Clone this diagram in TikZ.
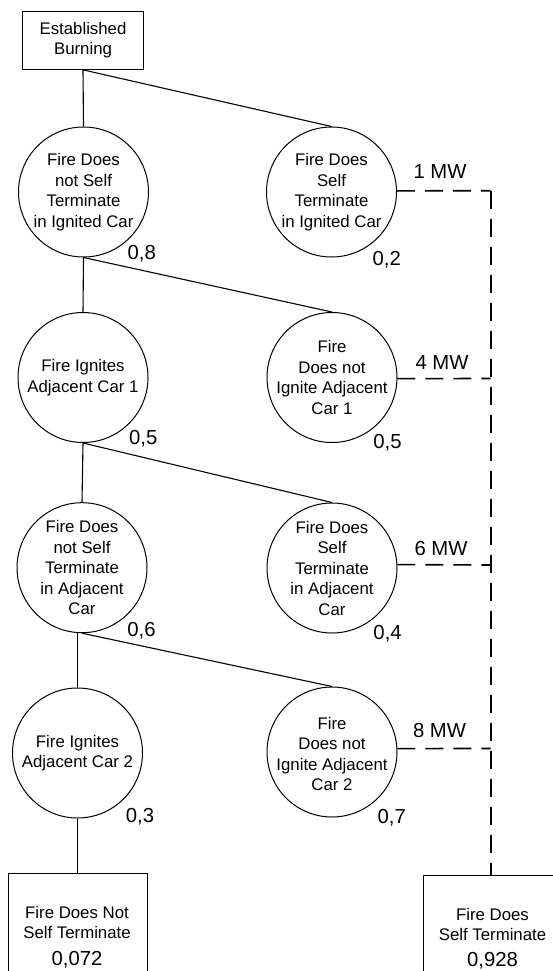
\documentclass[tikz,border=0pt]{standalone}
\usepackage{fontspec}
\setmainfont{Liberation Sans}
\begin{document}
\begin{tikzpicture}[x=1pt,y=-1pt,
  circ/.style={circle,draw,line width=1pt,minimum size=130pt,inner sep=0pt},
  ctext/.style={align=center,font=\fontsize{16.8}{20.5}\selectfont,inner sep=0pt},
  prob/.style={font=\fontsize{20.3}{22}\selectfont,inner sep=0pt},
  branch/.style={line width=1.1pt},
  heat/.style={line width=1.6pt,dash pattern=on 18pt off 10pt},
  box/.style={draw,line width=1pt,inner sep=0pt}]
\useasboundingbox (0,0) rectangle (553,971);
\clip (0,0) rectangle (553,971);

% top box
\node[box,minimum width=121.3pt,minimum height=58.3pt,align=center,
      font=\fontsize{16.8}{20.7}\selectfont] (top) at (83,40.2) {Established\\Burning};

% left column
\node[circ] (c1) at (83.5,192) {};
\node[ctext] (t1) at (c1) {Fire Does\\not Self\\Terminate\\in Ignited Car};
\node[circ] (c2) at (83,377.5) {};
\node[ctext] (t2) at (c2) {Fire Ignites\\Adjacent Car 1};
\node[circ] (c3) at (82,567.7) {};
\node[ctext] (t3) at (c3) {Fire Does\\not Self\\Terminate\\in Adjacent\\Car};
\node[circ] (c4) at (77.5,753) {};
\node[ctext] (t4) at (c4) {Fire Ignites\\Adjacent Car 2};

% right column
\node[circ] (r1) at (331.5,192) {};
\node[ctext] (s1) at (r1) {Fire Does\\Self\\Terminate\\in Ignited Car};
\node[circ] (r2) at (332,377.5) {};
\node[ctext] (s2) at (r2) {Fire\\Does not\\Ignite Adjacent\\Car 1};
\node[circ] (r3) at (332,568) {};
\node[ctext] (s3) at (r3) {Fire Does\\Self\\Terminate\\in Adjacent\\Car};
\node[circ] (r4) at (332,752) {};
\node[ctext] (s4) at ([yshift=-2pt]r4.center) {Fire\\Does not\\Ignite Adjacent\\Car 2};

% bottom boxes
\node[box,minimum width=139pt,minimum height=140pt,anchor=north] (lb) at (77.5,872.7) {};
\node[ctext] (lbt) at (77,937) {Fire Does Not\\Self Terminate\\[5.9pt]{\fontsize{20.3}{21}\selectfont 0,072}};
\node[box,minimum width=139pt,minimum height=140pt,anchor=north] (rb) at (492.5,874.5) {};
\node[ctext] (rbt) at (492.5,938.7) {Fire Does\\Self Terminate\\[5.9pt]{\fontsize{20.3}{21}\selectfont 0,928}};

% probabilities
\node[prob] (p1) at (141.7,254) {0,8};
\node[prob] (p2) at (143.3,438.8) {0,5};
\node[prob] (p3) at (141.5,630.8) {0,6};
\node[prob] (p4) at (140,816.5) {0,3};
\node[prob] (q1) at (386.7,259.8) {0,2};
\node[prob] (q2) at (387.5,443) {0,5};
\node[prob] (q3) at (387.6,634) {0,4};
\node[prob] (q4) at (391.7,818) {0,7};

% heat release labels
\node[prob] (m1) at (440,171.7) {1 MW};
\node[prob] (m2) at (442,362.3) {4 MW};
\node[prob] (m3) at (441,548.3) {6 MW};
\node[prob] (m4) at (439.5,731) {8 MW};

% branches
\draw[branch] (top.south) -- (c1.north);
\draw[branch] (top.south) -- (r1.north);
\draw[branch] (c1.south) -- (c2.north);
\draw[branch] (c1.south) -- (r2.north);
\draw[branch] (c2.south) -- (c3.north);
\draw[branch] (c2.south) -- (r3.north);
\draw[branch] (c3.south -| c4.north) -- (c4.north);
\draw[branch] (c3.south) -- (r4.north);
\draw[branch,line width=1.6pt] (c4.south) -- (lb.north);

% dashed heat lines
\coordinate (j1) at (490.7,190.7);
\coordinate (j2) at (490.7,378.5);
\coordinate (j3) at (490.7,565);
\coordinate (j4) at (490.7,748.5);
\draw[heat] (r1.1) -- (j1);
\draw[heat] (r2.-1) -- (j2);
\draw[heat] (r3.3) -- (j3);
\draw[heat] (r4.3) -- (j4);
\draw[heat] (j1) -- (j1 |- rb.north);
\end{tikzpicture}
\end{document}
